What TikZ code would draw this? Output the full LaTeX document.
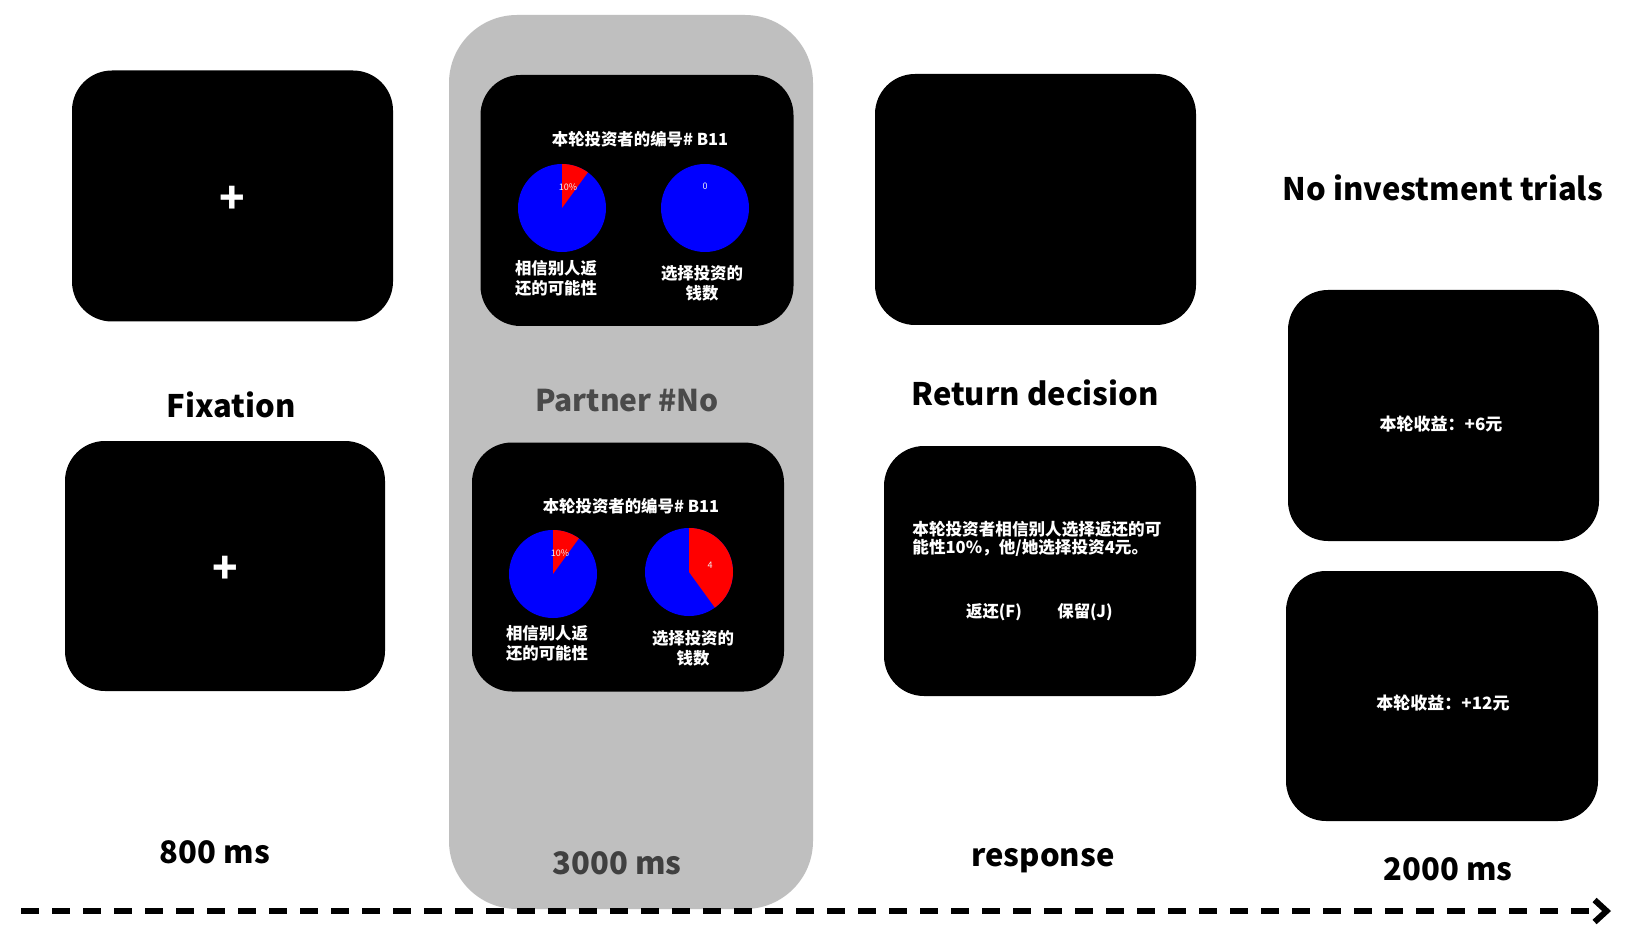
\documentclass[tikz,border=0pt]{standalone}
\usepackage{fontspec}
\setmainfont{Noto Sans CJK SC}
\usetikzlibrary{arrows.meta}
\definecolor{panelgray}{HTML}{BFBFBF}
\definecolor{partnergray}{HTML}{4A4A4A}
\definecolor{msgray}{HTML}{404040}
\definecolor{pieblue}{HTML}{0000FF}
\definecolor{piered}{HTML}{FF0000}
\begin{document}
\begin{tikzpicture}[x=0.5pt,y=-0.5pt,
  screen/.style={rectangle, rounded corners=20pt, fill=black, inner sep=0pt},
  biglabel/.style={font=\fontsize{15.5}{18}\selectfont\bfseries, text=black, inner sep=0pt},
  cjk/.style={font=\fontsize{8.2}{10}\selectfont\bfseries, text=white, inner sep=0pt, align=center},
  plussign/.style={font=\fontsize{21}{21}\selectfont\bfseries, text=white, inner sep=0pt},
  pie/.style={circle, fill=pieblue, minimum size=44pt, inner sep=0pt},
  pielabel/.style={font=\fontsize{4.5}{5}\selectfont, text=white!90!gray, inner sep=0pt},
  timeline/.style={line width=3pt, dash pattern=on 9pt off 6.5pt, -{Straight Barb[length=6pt,width=11pt]}}
]
\useasboundingbox (0,0) rectangle (1643,935);
\fill[white] (0,0) rectangle (1643,935);

% gray panel
\node[rectangle, rounded corners=34pt, fill=panelgray, minimum width=182pt, minimum height=447pt, inner sep=0pt] (panel) at (631,462) {};

% Fixation column
\node[screen, minimum width=160.5pt, minimum height=125.5pt] (fixA) at (232.5,196) {};
\node[plussign, yshift=-2pt] (plusA) at (fixA.center) {+};
\node[biglabel] (fixlabel) at (231,405) {Fixation};
\node[screen, minimum width=160pt, minimum height=125pt] (fixB) at (225,566) {};
\node[plussign, yshift=-2pt] (plusB) at (fixB.center) {+};
\node[biglabel] (t800) at (215,852) {800 ms};

% Partner column
\node[screen, minimum width=156.5pt, minimum height=125.5pt] (parA) at (637,200.5) {};
\node[cjk] (titleA) at (640,139) {本轮投资者的编号\# B11};
\node[pie] (pieA1) at (562,208) {};
\fill[piered] (pieA1.center) -- ++(-90:44) arc[start angle=-90, end angle=-54, radius=44] -- cycle;
\node[pielabel] (pctA) at (568,187) {10\%};
\node[pie] (pieA2) at (705,208) {};
\node[pielabel] (zeroA) at (705,186) {0};
\node[cjk] (labA1) at (556,278) {相信别人返\\还的可能性};
\node[cjk] (labA2) at (702,283) {选择投资的\\钱数};

\node[font=\fontsize{15}{18}\selectfont\bfseries, text=partnergray, inner sep=0pt] (partner) at (627,401) {Partner \#No};

\node[screen, minimum width=156pt, minimum height=124.5pt] (parB) at (628,567) {};
\node[cjk] (titleB) at (631,506) {本轮投资者的编号\# B11};
\node[pie] (pieB1) at (553,574) {};
\fill[piered] (pieB1.center) -- ++(-90:44) arc[start angle=-90, end angle=-54, radius=44] -- cycle;
\node[pielabel] (pctB) at (560,553) {10\%};
\node[pie] (pieB2) at (689,572) {};
\fill[piered] (pieB2.center) -- ++(-90:44) arc[start angle=-90, end angle=54, radius=44] -- cycle;
\node[pielabel] (fourB) at (710,565) {4};
\node[cjk] (labB1) at (547,643) {相信别人返\\还的可能性};
\node[cjk] (labB2) at (693,648) {选择投资的\\钱数};

\node[font=\fontsize{15.5}{18}\selectfont\bfseries, text=msgray, inner sep=0pt] (t3000) at (617,863) {3000 ms};

% Return decision column
\node[screen, minimum width=160.5pt, minimum height=125.5pt] (retA) at (1035.5,199.5) {};
\node[biglabel] (retlabel) at (1035,393) {Return decision};
\node[screen, minimum width=156pt, minimum height=125pt] (retB) at (1040,571) {};
\node[cjk, anchor=west, align=left, font=\fontsize{8.3}{9}\selectfont\bfseries] (retmsg) at (912,539) {本轮投资者相信别人选择返还的可\\能性10\%，他/她选择投资4元。};
\node[cjk] (optF) at (994,612) {返还(F)};
\node[cjk] (optJ) at (1085,612) {保留(J)};
\node[biglabel] (resp) at (1043,861) {response};

% No investment column
\node[biglabel] (nolabel) at (1443,188) {No investment trials};
\node[screen, minimum width=155.5pt, minimum height=125.5pt] (noA) at (1443.5,415.5) {};
\node[cjk, font=\fontsize{8.5}{10}\selectfont\bfseries] (gainA) at (1441,424) {本轮收益：+6元};
\node[screen, minimum width=156pt, minimum height=125pt] (noB) at (1442,696) {};
\node[cjk, font=\fontsize{8.5}{10}\selectfont\bfseries] (gainB) at (1443,703) {本轮收益：+12元};
\node[biglabel] (t2000) at (1448,869) {2000 ms};

% timeline
\coordinate (tl0) at (21,911);
\coordinate (tl1) at (1611,911);
\draw[timeline] (tl0) -- (tl1);
\end{tikzpicture}
\end{document}
